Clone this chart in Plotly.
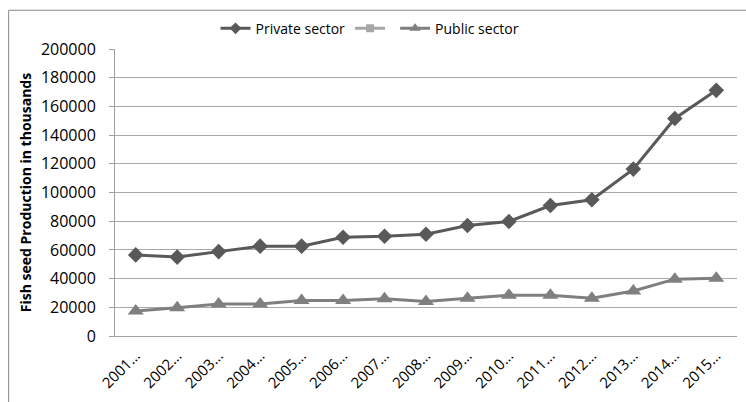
import plotly.graph_objects as go

# Fish seed production (thousands) by year
years = ["2001…", "2002…", "2003…", "2004…", "2005…", "2006…", "2007…", "2008…",
         "2009…", "2010…", "2011…", "2012…", "2013…", "2014…", "2015…"]
private_sector = [56500, 55000, 58800, 62600, 62600, 68800, 69500, 70900,
                  77000, 79800, 90900, 94900, 116300, 151600, 171200]
public_sector = [17500, 19600, 22300, 22300, 24700, 24700, 26000, 24000,
                 26300, 28400, 28400, 26300, 31400, 39600, 40200]
y_ticks = [0, 20000, 40000, 60000, 80000, 100000, 120000, 140000, 160000, 180000, 200000]

font_family = "Open Sans, Liberation Sans, sans-serif"

series = [
    ("Private sector", private_sector, "#595959", "diamond", 12, 9),
    ("", None, "#a6a6a6", "square", 9, 8),
    ("Public sector", public_sector, "#7f7f7f", "triangle-up", 14, 10),
]

fig = go.Figure()
for name, values, color, symbol, size, legend_size in series:
    if values is not None:
        fig.add_trace(go.Scatter(
            x=years, y=values, name=name, mode="lines+markers", showlegend=False,
            line=dict(color=color, width=3),
            marker=dict(symbol=symbol, size=size, color=color),
        ))
    # legend entry with a smaller marker
    fig.add_trace(go.Scatter(
        x=[None], y=[None], name=name, mode="lines+markers",
        line=dict(color=color, width=3),
        marker=dict(symbol=symbol, size=legend_size, color=color),
    ))

fig.update_layout(
    width=746, height=402,
    margin=dict(l=115, r=9, t=49, b=66),
    paper_bgcolor="white", plot_bgcolor="white",
    font=dict(family=font_family, size=14, color="#000000"),
    showlegend=True,
    legend=dict(orientation="h", x=0.41, xanchor="center", y=1.015, yanchor="bottom",
                font=dict(size=14), itemwidth=30, traceorder="normal"),
    xaxis=dict(
        type="category", tickangle=-45, showgrid=False,
        showline=True, linecolor="#a0a0a0", linewidth=1,
        ticks="", tickfont=dict(size=15), range=[-0.5, 14.5],
        ticklabelstandoff=4,
    ),
    yaxis=dict(
        range=[0, 200000], tickvals=y_ticks, ticktext=[str(v) for v in y_ticks],
        showgrid=True, gridcolor="#a8a8a8", gridwidth=1,
        showline=True, linecolor="#a0a0a0", linewidth=1,
        ticks="outside", ticklen=5, tickcolor="#a0a0a0",
        ticklabelstandoff=10,
        tickfont=dict(size=16), zeroline=False,
        title=dict(text="<b>Fish seed Production in thousands</b>",
                   font=dict(size=14), standoff=6),
    ),
    shapes=[
        dict(type="line", xref="paper", yref="paper", x0=-0.171, x1=1.02, y0=1.135, y1=1.135,
             line=dict(color="#888888", width=1)),
        dict(type="line", xref="paper", yref="paper", x0=-0.171, x1=-0.171, y0=1.135, y1=-0.25,
             line=dict(color="#888888", width=1)),
    ],
)

fig.write_html("out.html")
